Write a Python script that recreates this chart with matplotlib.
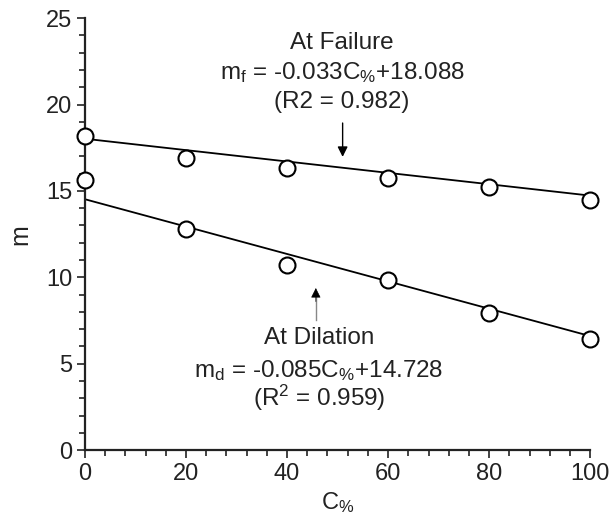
import matplotlib
matplotlib.use("Agg")
import matplotlib.pyplot as plt
from matplotlib.ticker import MultipleLocator

plt.rcParams["font.family"] = ["Liberation Sans", "DejaVu Sans"]
plt.rcParams["mathtext.fontset"] = "custom"
plt.rcParams["mathtext.rm"] = "Liberation Sans"
plt.rcParams["mathtext.it"] = "Liberation Sans:italic"

# data
c_pct = [0, 20, 40, 60, 80, 100]
m_failure = [18.18, 16.93, 16.31, 15.77, 15.25, 14.48]
m_dilation = [15.63, 12.78, 10.71, 9.84, 7.91, 6.41]

fit_x = [0, 100]
fit_failure = [18.02, 14.73]
fit_dilation = [14.52, 6.6]

txt = "#222222"

fig = plt.figure(figsize=(6.11, 5.18), dpi=100)
ax = fig.add_axes([0.139, 0.131, 0.827, 0.834])

ax.plot(fit_x, fit_failure, color="black", linewidth=1.3, zorder=2)
ax.plot(fit_x, fit_dilation, color="black", linewidth=1.3, zorder=2)
for ys in (m_failure, m_dilation):
    ax.plot(c_pct, ys, linestyle="none", marker="o", markersize=11.5,
            markerfacecolor="white", markeredgecolor="black",
            markeredgewidth=1.5, clip_on=False, zorder=3)

ax.set_xlim(0, 100)
ax.set_ylim(0, 25)
ax.xaxis.set_major_locator(MultipleLocator(20))
ax.xaxis.set_minor_locator(MultipleLocator(4))
ax.yaxis.set_major_locator(MultipleLocator(5))
ax.yaxis.set_minor_locator(MultipleLocator(1))

for s in ("top", "right"):
    ax.spines[s].set_visible(False)
for s in ("left", "bottom"):
    ax.spines[s].set_linewidth(1.6)
    ax.spines[s].set_color(txt)

ax.tick_params(which="major", direction="out", length=6, width=1.2,
               labelsize=17, colors=txt, pad=3)
ax.tick_params(which="minor", direction="out", length=4, width=1.2,
               colors=txt)

ax.set_xlabel(r"C$_{\mathrm{\%}}$", fontsize=17, color=txt, labelpad=4)
ax.set_ylabel("m", fontsize=18, color=txt, labelpad=10)

# annotations
fs = 17.5
ax.text(50.9, 23.57, "At Failure", ha="center", va="center", fontsize=fs, color=txt)
ax.text(50.9, 21.83, r"m$_{\mathrm{f}}$ = -0.033C$_{\mathrm{\%}}$+18.088",
        ha="center", va="center", fontsize=fs, color=txt)
ax.text(50.9, 20.15, "(R2 = 0.982)", ha="center", va="center", fontsize=fs, color=txt)
ax.annotate("", xy=(51, 16.97), xytext=(51, 18.93),
            arrowprops=dict(arrowstyle="-|>", color="black", lw=1.0,
                            mutation_scale=15, shrinkA=0, shrinkB=0))

# lower arrow: grey shaft, black head
ax.plot([45.7, 45.7], [7.53, 8.9], color="#888888", linewidth=1.0)
ax.annotate("", xy=(45.7, 9.38), xytext=(45.7, 8.6),
            arrowprops=dict(arrowstyle="-|>", color="black", lw=0.5,
                            mutation_scale=15, shrinkA=0, shrinkB=0))
ax.text(46.3, 6.49, "At Dilation", ha="center", va="center", fontsize=fs, color=txt)
ax.text(46.3, 4.63, r"m$_{\mathrm{d}}$ = -0.085C$_{\mathrm{\%}}$+14.728",
        ha="center", va="center", fontsize=fs, color=txt)
ax.text(46.3, 3.01, r"(R$^{\mathrm{2}}$ = 0.959)", ha="center", va="center",
        fontsize=fs, color=txt)

fig.savefig("out.png", dpi=100)
plt.close(fig)
